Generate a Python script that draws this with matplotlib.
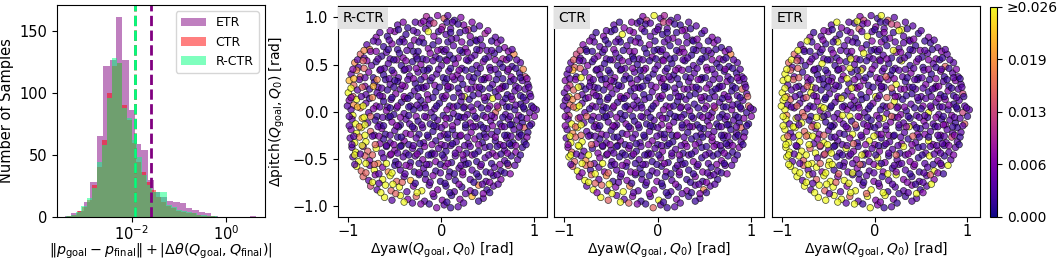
import matplotlib
matplotlib.use('Agg')
import matplotlib.pyplot as plt
import numpy as np

plt.rcParams.update({
    'font.size': 10.5,
    'mathtext.fontset': 'dejavusans',
})

# ── histogram data: counts per log-spaced bin (30 bins per method) ─────
HIST_LABELS = ['ETR', 'CTR', 'R-CTR']
HIST_COLORS = ['purple', 'red', 'springgreen']
HIST_LOG_RANGE = [(-3.42, 0.64), (-3.37, -0.22), (-3.39, -0.18)]
ETR_COUNTS = [1, 3, 5, 12, 28, 65, 122, 127, 161, 127, 86, 59, 54, 30, 20,
              16, 13, 12, 11, 7, 6, 4, 3, 1, 0, 0, 0, 0, 0, 1]
CTR_COUNTS = [1, 2, 5, 8, 14, 26, 40, 62, 100, 122, 124, 90, 78, 60, 44,
              36, 28, 22, 16, 12, 9, 7, 5, 4, 3, 3, 2, 1, 1, 1]
RCTR_COUNTS = [1, 2, 4, 9, 15, 23, 44, 58, 96, 128, 124, 88, 80, 62, 48,
               34, 26, 20, 20, 20, 10, 8, 6, 5, 4, 3, 2, 2, 1, 1]
MEAN_ERROR = [0.0259, 0.0120, 0.0120]

# ── scatter data: goal orientation offsets (same goals for all methods) ─────
GOAL_POINTS = [
    # pitch ~ 1.0
    (-0.16, 1.01), (-0.12, 0.97), (-0.04, 1.02), (0.03, 0.99), (0.07, 1.02), (0.14, 0.97), (0.21, 1.00),
    # pitch ~ 0.9
    (-0.47, 0.92), (-0.41, 0.95), (-0.36, 0.89), (-0.22, 0.94), (-0.17, 0.88), (-0.13, 0.93),
    (0.01, 0.90), (0.06, 0.95), (0.10, 0.88), (0.24, 0.92), (0.29, 0.87), (0.41, 0.91),
    # pitch ~ 0.8
    (-0.70, 0.79), (-0.66, 0.84), (-0.58, 0.80), (-0.50, 0.85), (-0.42, 0.77), (-0.38, 0.82),
    (-0.26, 0.84), (-0.21, 0.78), (-0.08, 0.80), (-0.03, 0.85), (0.05, 0.82), (0.16, 0.78),
    (0.20, 0.84), (0.31, 0.80), (0.37, 0.76), (0.47, 0.83), (0.58, 0.79),
    # pitch ~ 0.7
    (-0.80, 0.71), (-0.77, 0.66), (-0.68, 0.74), (-0.62, 0.69), (-0.53, 0.72), (-0.47, 0.66),
    (-0.40, 0.74), (-0.33, 0.70), (-0.19, 0.73), (-0.14, 0.67), (-0.09, 0.71), (0.00, 0.66),
    (0.07, 0.74), (0.13, 0.70), (0.26, 0.67), (0.31, 0.73), (0.44, 0.70), (0.49, 0.65),
    (0.60, 0.73), (0.68, 0.68),
    # pitch ~ 0.6
    (-0.87, 0.61), (-0.83, 0.57), (-0.76, 0.64), (-0.64, 0.59), (-0.59, 0.63), (-0.55, 0.56),
    (-0.45, 0.62), (-0.41, 0.57), (-0.30, 0.64), (-0.27, 0.59), (-0.20, 0.56), (-0.12, 0.62),
    (-0.06, 0.58), (0.03, 0.64), (0.09, 0.60), (0.18, 0.57), (0.23, 0.63), (0.36, 0.60),
    (0.41, 0.65), (0.51, 0.58), (0.57, 0.62), (0.66, 0.56), (0.78, 0.61),
    # pitch ~ 0.5
    (-0.93, 0.52), (-0.89, 0.47), (-0.80, 0.54), (-0.75, 0.49), (-0.70, 0.53), (-0.61, 0.46),
    (-0.57, 0.51), (-0.48, 0.55), (-0.43, 0.49), (-0.35, 0.46), (-0.31, 0.53), (-0.22, 0.50),
    (-0.13, 0.46), (-0.09, 0.54), (0.00, 0.49), (0.05, 0.55), (0.15, 0.51), (0.22, 0.46),
    (0.29, 0.54), (0.38, 0.49), (0.45, 0.53), (0.52, 0.47), (0.63, 0.51), (0.70, 0.55),
    (0.76, 0.48), (0.85, 0.52),
    # pitch ~ 0.4
    (-0.97, 0.40), (-0.91, 0.44), (-0.87, 0.37), (-0.78, 0.42), (-0.73, 0.36), (-0.66, 0.44),
    (-0.62, 0.39), (-0.51, 0.41), (-0.46, 0.36), (-0.40, 0.44), (-0.34, 0.38), (-0.25, 0.42),
    (-0.18, 0.37), (-0.15, 0.44), (-0.05, 0.40), (0.02, 0.36), (0.08, 0.43), (0.17, 0.39),
    (0.26, 0.44), (0.30, 0.37), (0.39, 0.41), (0.47, 0.36), (0.53, 0.44), (0.61, 0.40),
    (0.71, 0.43), (0.75, 0.37), (0.84, 0.41), (0.90, 0.37),
    # pitch ~ 0.3
    (-0.99, 0.33), (-0.94, 0.28), (-0.88, 0.34), (-0.82, 0.27), (-0.72, 0.31), (-0.68, 0.26),
    (-0.60, 0.34), (-0.55, 0.29), (-0.47, 0.32), (-0.39, 0.27), (-0.36, 0.34), (-0.28, 0.30),
    (-0.21, 0.26), (-0.12, 0.33), (-0.07, 0.28), (0.04, 0.31), (0.10, 0.26), (0.14, 0.34),
    (0.23, 0.29), (0.33, 0.32), (0.37, 0.26), (0.46, 0.34), (0.55, 0.29), (0.59, 0.34),
    (0.66, 0.27), (0.74, 0.32), (0.80, 0.27), (0.87, 0.33), (0.93, 0.29),
    # pitch ~ 0.2
    (-1.00, 0.20), (-0.95, 0.16), (-0.90, 0.23), (-0.81, 0.18), (-0.77, 0.24), (-0.69, 0.20),
    (-0.63, 0.16), (-0.58, 0.23), (-0.49, 0.19), (-0.44, 0.24), (-0.33, 0.17), (-0.29, 0.22),
    (-0.19, 0.25), (-0.15, 0.18), (-0.06, 0.21), (0.01, 0.16), (0.07, 0.24), (0.19, 0.20),
    (0.25, 0.16), (0.28, 0.24), (0.40, 0.19), (0.44, 0.24), (0.50, 0.16), (0.58, 0.21),
    (0.65, 0.25), (0.71, 0.18), (0.79, 0.22), (0.85, 0.17), (0.90, 0.24), (0.95, 0.19),
    # pitch ~ 0.1
    (-0.99, 0.12), (-0.94, 0.07), (-0.91, 0.13), (-0.81, 0.09), (-0.77, 0.14), (-0.70, 0.06),
    (-0.62, 0.11), (-0.58, 0.05), (-0.54, 0.13), (-0.43, 0.10), (-0.39, 0.14), (-0.33, 0.06),
    (-0.22, 0.12), (-0.18, 0.07), (-0.14, 0.13), (-0.02, 0.09), (0.03, 0.14), (0.09, 0.06),
    (0.21, 0.11), (0.25, 0.05), (0.30, 0.13), (0.39, 0.08), (0.47, 0.12), (0.52, 0.06),
    (0.55, 0.14), (0.66, 0.10), (0.70, 0.05), (0.76, 0.13), (0.85, 0.08), (0.91, 0.12),
    (0.97, 0.06),
    # pitch ~ 0.0
    (-0.97, 0.02), (-0.95, -0.04), (-0.87, 0.04), (-0.78, -0.01), (-0.73, 0.03), (-0.69, -0.05),
    (-0.59, 0.01), (-0.51, -0.03), (-0.48, 0.04), (-0.40, -0.02), (-0.30, 0.02), (-0.27, -0.05),
    (-0.23, 0.04), (-0.11, -0.01), (-0.07, 0.03), (0.02, -0.04), (0.06, 0.02), (0.13, -0.02),
    (0.24, 0.04), (0.28, -0.03), (0.34, 0.01), (0.45, -0.04), (0.50, 0.03), (0.58, -0.01),
    (0.61, 0.04), (0.69, -0.03), (0.79, 0.02), (0.83, -0.04), (0.89, 0.03), (0.95, -0.01),
    (1.02, 0.02),
    # pitch ~ -0.1
    (-0.96, -0.08), (-0.92, -0.13), (-0.85, -0.07), (-0.79, -0.12), (-0.71, -0.09), (-0.66, -0.14),
    (-0.57, -0.06), (-0.53, -0.11), (-0.44, -0.14), (-0.38, -0.08), (-0.34, -0.13), (-0.25, -0.10),
    (-0.16, -0.06), (-0.12, -0.13), (-0.04, -0.09), (0.04, -0.14), (0.09, -0.07), (0.17, -0.11),
    (0.21, -0.06), (0.31, -0.12), (0.38, -0.07), (0.42, -0.14), (0.53, -0.10), (0.57, -0.06),
    (0.63, -0.13), (0.72, -0.08), (0.76, -0.14), (0.81, -0.09), (0.87, -0.12), (0.92, -0.07),
    (0.97, -0.13),
    # pitch ~ -0.2
    (-0.97, -0.19), (-0.91, -0.23), (-0.86, -0.17), (-0.76, -0.21), (-0.72, -0.25), (-0.64, -0.18),
    (-0.60, -0.24), (-0.50, -0.20), (-0.46, -0.16), (-0.38, -0.23), (-0.29, -0.18), (-0.24, -0.24),
    (-0.20, -0.17), (-0.09, -0.21), (-0.05, -0.16), (0.03, -0.24), (0.12, -0.19), (0.15, -0.25),
    (0.26, -0.17), (0.32, -0.22), (0.37, -0.16), (0.46, -0.24), (0.49, -0.18), (0.60, -0.21),
    (0.65, -0.16), (0.71, -0.25), (0.78, -0.19), (0.84, -0.23), (0.89, -0.17), (0.93, -0.22),
    # pitch ~ -0.3
    (-0.98, -0.28), (-0.93, -0.33), (-0.88, -0.27), (-0.81, -0.32), (-0.74, -0.26), (-0.66, -0.34),
    (-0.62, -0.29), (-0.55, -0.33), (-0.47, -0.27), (-0.40, -0.31), (-0.35, -0.35), (-0.27, -0.28),
    (-0.19, -0.33), (-0.14, -0.27), (-0.06, -0.31), (0.00, -0.35), (0.07, -0.28), (0.16, -0.32),
    (0.20, -0.26), (0.29, -0.34), (0.36, -0.29), (0.44, -0.33), (0.48, -0.27), (0.58, -0.31),
    (0.63, -0.35), (0.70, -0.28), (0.77, -0.33), (0.83, -0.27), (0.89, -0.32),
    # pitch ~ -0.4
    (-0.96, -0.38), (-0.92, -0.43), (-0.84, -0.37), (-0.79, -0.42), (-0.70, -0.39), (-0.64, -0.44),
    (-0.59, -0.37), (-0.50, -0.41), (-0.43, -0.36), (-0.38, -0.44), (-0.31, -0.39), (-0.23, -0.42),
    (-0.18, -0.37), (-0.10, -0.44), (-0.03, -0.39), (0.05, -0.42), (0.10, -0.36), (0.19, -0.40),
    (0.27, -0.44), (0.31, -0.37), (0.40, -0.42), (0.47, -0.38), (0.55, -0.44), (0.60, -0.37),
    (0.68, -0.41), (0.75, -0.36), (0.80, -0.43), (0.87, -0.38),
    # pitch ~ -0.5
    (-0.95, -0.48), (-0.89, -0.53), (-0.82, -0.47), (-0.77, -0.52), (-0.68, -0.55), (-0.62, -0.49),
    (-0.55, -0.46), (-0.49, -0.53), (-0.41, -0.48), (-0.33, -0.54), (-0.28, -0.47), (-0.20, -0.51),
    (-0.11, -0.46), (-0.06, -0.53), (0.03, -0.49), (0.11, -0.54), (0.15, -0.47), (0.24, -0.51),
    (0.33, -0.46), (0.38, -0.53), (0.47, -0.49), (0.54, -0.55), (0.59, -0.47), (0.68, -0.52),
    (0.75, -0.47), (0.82, -0.51),
    # pitch ~ -0.6
    (-0.91, -0.58), (-0.86, -0.63), (-0.77, -0.57), (-0.72, -0.62), (-0.63, -0.59), (-0.57, -0.64),
    (-0.50, -0.57), (-0.44, -0.62), (-0.34, -0.58), (-0.29, -0.64), (-0.19, -0.60), (-0.13, -0.56),
    (-0.06, -0.63), (0.04, -0.58), (0.09, -0.64), (0.19, -0.60), (0.26, -0.56), (0.33, -0.62),
    (0.42, -0.58), (0.48, -0.64), (0.57, -0.59), (0.64, -0.63), (0.72, -0.57),
    # pitch ~ -0.7
    (-0.84, -0.69), (-0.78, -0.73), (-0.71, -0.67), (-0.63, -0.72), (-0.55, -0.68), (-0.48, -0.74),
    (-0.40, -0.69), (-0.33, -0.73), (-0.24, -0.67), (-0.17, -0.72), (-0.09, -0.68), (-0.01, -0.74),
    (0.08, -0.69), (0.15, -0.73), (0.23, -0.67), (0.31, -0.72), (0.40, -0.69), (0.48, -0.74),
    (0.56, -0.68), (0.64, -0.72),
    # pitch ~ -0.8
    (-0.76, -0.79), (-0.69, -0.83), (-0.60, -0.78), (-0.54, -0.84), (-0.45, -0.80), (-0.37, -0.85),
    (-0.30, -0.79), (-0.21, -0.84), (-0.13, -0.78), (-0.04, -0.83), (0.05, -0.79), (0.14, -0.85),
    (0.22, -0.80), (0.31, -0.84), (0.40, -0.78), (0.49, -0.83), (0.56, -0.79),
    # pitch ~ -0.9
    (-0.61, -0.91), (-0.53, -0.94), (-0.44, -0.89), (-0.36, -0.93), (-0.27, -0.90), (-0.18, -0.95),
    (-0.08, -0.90), (0.01, -0.94), (0.11, -0.89), (0.20, -0.93), (0.33, -0.90), (0.45, -0.92),
    # pitch ~ -1.0
    (-0.05, -1.02), (0.03, -0.99), (0.10, -1.02), (0.18, -1.01), (-0.13, -0.98),
    # ── in-between rows ──
    # pitch ~ 0.95
    (-0.28, 0.95), (-0.19, 0.96), (-0.08, 0.94), (0.12, 0.95), (0.18, 0.93), (0.33, 0.95),
    # pitch ~ 0.85
    (-0.55, 0.86), (-0.46, 0.87), (-0.30, 0.86), (-0.14, 0.85), (0.00, 0.87), (0.10, 0.84),
    (0.26, 0.86), (0.35, 0.88), (0.50, 0.86),
    # pitch ~ 0.75
    (-0.73, 0.75), (-0.56, 0.76), (-0.45, 0.74), (-0.29, 0.76), (-0.24, 0.74), (-0.03, 0.75),
    (0.11, 0.77), (0.22, 0.74), (0.38, 0.75), (0.42, 0.77), (0.54, 0.75), (0.64, 0.76),
    # pitch ~ 0.65
    (-0.83, 0.65), (-0.70, 0.64), (-0.57, 0.66), (-0.37, 0.65), (-0.25, 0.64), (-0.04, 0.65),
    (0.05, 0.66), (0.20, 0.65), (0.28, 0.63), (0.38, 0.66), (0.54, 0.65), (0.62, 0.66),
    (0.72, 0.64), (0.76, 0.66),
    # pitch ~ 0.55
    (-0.90, 0.55), (-0.84, 0.54), (-0.68, 0.56), (-0.51, 0.55), (-0.38, 0.54), (-0.26, 0.56),
    (-0.16, 0.55), (-0.02, 0.56), (0.06, 0.54), (0.13, 0.56), (0.27, 0.55), (0.32, 0.57),
    (0.47, 0.56), (0.58, 0.55), (0.73, 0.57), (0.81, 0.55),
    # pitch ~ 0.45
    (-0.95, 0.45), (-0.83, 0.46), (-0.65, 0.45), (-0.53, 0.44), (-0.39, 0.45), (-0.27, 0.46),
    (-0.19, 0.44), (-0.03, 0.45), (0.10, 0.46), (0.19, 0.44), (0.33, 0.45), (0.42, 0.46),
    (0.58, 0.45), (0.66, 0.47), (0.72, 0.45), (0.80, 0.46), (0.88, 0.45),
    # pitch ~ 0.35
    (-0.94, 0.35), (-0.82, 0.36), (-0.69, 0.34), (-0.56, 0.35), (-0.50, 0.33), (-0.30, 0.35),
    (-0.22, 0.34), (-0.10, 0.36), (0.06, 0.35), (0.12, 0.37), (0.21, 0.35), (0.35, 0.36),
    (0.43, 0.34), (0.51, 0.36), (0.66, 0.35), (0.78, 0.34), (0.85, 0.36), (0.92, 0.35),
    # pitch ~ 0.25
    (-0.97, 0.25), (-0.85, 0.26), (-0.73, 0.27), (-0.64, 0.25), (-0.51, 0.26), (-0.42, 0.28),
    (-0.25, 0.25), (-0.16, 0.27), (-0.02, 0.26), (0.07, 0.27), (0.18, 0.25), (0.32, 0.24),
    (0.41, 0.26), (0.52, 0.25), (0.62, 0.24), (0.69, 0.27), (0.83, 0.25), (0.94, 0.26),
    # pitch ~ 0.15
    (-0.97, 0.15), (-0.86, 0.16), (-0.74, 0.15), (-0.66, 0.17), (-0.53, 0.15), (-0.40, 0.16),
    (-0.36, 0.14), (-0.25, 0.16), (-0.09, 0.15), (0.05, 0.17), (0.13, 0.15), (0.22, 0.16),
    (0.34, 0.17), (0.46, 0.15), (0.61, 0.16), (0.69, 0.14), (0.75, 0.16), (0.88, 0.15),
    (0.96, 0.16),
    # pitch ~ 0.05
    (-1.01, 0.06), (-0.90, 0.05), (-0.84, 0.06), (-0.66, 0.05), (-0.55, 0.04), (-0.47, 0.06),
    (-0.35, 0.05), (-0.26, 0.07), (-0.17, 0.04), (-0.05, 0.06), (0.13, 0.05), (0.17, 0.06),
    (0.32, 0.05), (0.43, 0.04), (0.60, 0.06), (0.73, 0.05), (0.80, 0.07), (0.88, 0.05),
    (0.99, 0.04),
    # pitch ~ -0.05
    (-0.99, -0.05), (-0.83, -0.06), (-0.76, -0.05), (-0.63, -0.06), (-0.55, -0.05), (-0.44, -0.06),
    (-0.35, -0.04), (-0.18, -0.05), (-0.08, -0.06), (0.05, -0.07), (0.18, -0.05), (0.25, -0.06),
    (0.36, -0.05), (0.48, -0.06), (0.54, -0.04), (0.66, -0.06), (0.74, -0.05), (0.86, -0.06),
    (1.00, -0.05),
    # pitch ~ -0.15
    (-0.99, -0.15), (-0.88, -0.16), (-0.82, -0.14), (-0.68, -0.16), (-0.62, -0.15), (-0.48, -0.15),
    (-0.31, -0.16), (-0.21, -0.14), (-0.08, -0.15), (0.00, -0.17), (0.12, -0.15), (0.26, -0.14),
    (0.34, -0.16), (0.45, -0.17), (0.55, -0.15), (0.68, -0.16), (0.74, -0.14), (0.84, -0.16),
    (0.95, -0.15),
    # pitch ~ -0.25
    (-0.94, -0.26), (-0.82, -0.25), (-0.67, -0.26), (-0.55, -0.25), (-0.43, -0.27), (-0.33, -0.24),
    (-0.15, -0.25), (-0.01, -0.26), (0.07, -0.24), (0.21, -0.25), (0.28, -0.27), (0.41, -0.26),
    (0.54, -0.24), (0.58, -0.27), (0.68, -0.25), (0.75, -0.26), (0.86, -0.25), (0.92, -0.27),
    # pitch ~ -0.35
    (-0.96, -0.35), (-0.85, -0.36), (-0.71, -0.35), (-0.59, -0.36), (-0.51, -0.35), (-0.44, -0.37),
    (-0.30, -0.36), (-0.23, -0.34), (-0.10, -0.35), (0.04, -0.36), (0.12, -0.34), (0.25, -0.36),
    (0.40, -0.35), (0.52, -0.37), (0.67, -0.36), (0.73, -0.34), (0.80, -0.36), (0.91, -0.35),
    # pitch ~ -0.45
    (-0.93, -0.46), (-0.87, -0.45), (-0.74, -0.46), (-0.54, -0.45), (-0.47, -0.44), (-0.35, -0.46),
    (-0.26, -0.45), (-0.14, -0.46), (-0.07, -0.45), (0.01, -0.46), (0.15, -0.44), (0.23, -0.46),
    (0.36, -0.45), (0.51, -0.46), (0.64, -0.45), (0.71, -0.44), (0.85, -0.46),
    # pitch ~ -0.55
    (-0.93, -0.56), (-0.81, -0.55), (-0.72, -0.56), (-0.59, -0.55), (-0.46, -0.56), (-0.38, -0.57),
    (-0.24, -0.55), (-0.16, -0.56), (-0.01, -0.56), (0.07, -0.55), (0.21, -0.57), (0.29, -0.55),
    (0.43, -0.56), (0.63, -0.56), (0.71, -0.55), (0.79, -0.57),
    # pitch ~ -0.65
    (-0.81, -0.65), (-0.67, -0.66), (-0.53, -0.65), (-0.39, -0.66), (-0.24, -0.65), (-0.17, -0.66),
    (-0.01, -0.65), (0.14, -0.66), (0.23, -0.64), (0.38, -0.66), (0.53, -0.65), (0.60, -0.67),
    (0.68, -0.65), (0.74, -0.66),
    # pitch ~ -0.75
    (-0.74, -0.75), (-0.67, -0.76), (-0.52, -0.77), (-0.42, -0.75), (-0.28, -0.76), (-0.12, -0.75),
    (0.04, -0.76), (0.19, -0.77), (0.35, -0.75), (0.44, -0.77), (0.52, -0.75), (0.61, -0.77),
    # pitch ~ -0.85
    (-0.65, -0.86), (-0.49, -0.87), (-0.26, -0.86), (-0.09, -0.87), (0.09, -0.86), (0.26, -0.87),
    (0.36, -0.86), (0.45, -0.87), (0.52, -0.86),
    # pitch ~ -0.95
    (-0.40, -0.96), (-0.31, -0.97), (-0.22, -0.98), (0.06, -0.96), (0.24, -0.97), (0.40, -0.95),
]

# error level per goal (0 = 0.000 ... 9 = >=0.026), one string per pitch row
ERR_LEVEL_VALUE = [0.0, 0.002, 0.004, 0.0065, 0.0095, 0.0125, 0.0155, 0.0185, 0.022, 0.026]
ERR_RCTR = ("4236213" "231322412352" "32132123312213242" "27213122131212312233"
            "62312213121322131232147" "72321223121312213212321312"
            "2763121321223121231213212315" "86231212132121312212312131222"
            "962212313212231212932121312122" "3792131221321231212312139213121"
            "2962313122131221321231267213122" "2982121312213123121321231212132"
            "399623121321212312132121312161" "29792312131222131212312132121"
            "2936921312213121231212312131" "29637231212313212231213212"
            "96293712312213121231215" "62399628123121321213" "52969239231213712"
            "929362231382" "32121"
            # in-between rows
            "235213" "312931213" "221312231212" "73121321312132"
            "2621312131221312" "36212312131221317" "827213121321231213"
            "968213121312213122" "3272131213121321212" "2892131221312131212"
            "2962131213121321213" "2792131212312132121" "293213121321231213"
            "296231213212312131" "92632131212312131" "2969231213212312"
            "62923121312213" "929612131232" "969312131" "923121")
ERR_CTR = ("3592412" "213231252132" "21312931221312213" "31221312213121322131"
           "52131221312132213121237" "26231213122131221312131212"
           "2812312131221312213121321212" "35312213121321231212312213122"
           "296213212231212312131221231262" "2672131221312123121321231213126"
           "2592131221312212312131226131212" "2962131221312123121321231212131"
           "279212312132121231213212131261" "29692312131221312123121321212"
           "3692131221312123121321231213" "96272312131221312123121312"
           "69612312131221312123122" "39627123121312213121" "29613972131213272"
           "962231291312" "62121"
           # in-between rows
           "312412" "213121312" "312131221312" "51213121312132"
           "6221312131221312" "26212312131221312" "292131213212312132"
           "392131213122131212" "2632131213121321216" "2692131221312131212"
           "3362131213121321213" "3692131212312132121" "962213121321231213"
           "396231213212312131" "92932131212312131" "2969231213212312"
           "39623121312213" "969212131232" "392312131" "963121")
ERR_ETR = ("3521962" "293162312592" "31232131921312213" "23131292131231221312"
           "63121231213921213121232" "62213192131221231291312162"
           "9621321221312913212231213122" "92613921312123121391213122132"
           "962129312212313921231221213125" "9262213912312213219312132213122"
           "9726213212391213122312193213152" "9299139123213212931212312132126"
           "929692321239131223129312132212" "99296239122312931223121931252"
           "9929693212931223121931223122" "92969239122312931223129312"
           "99629391223129312231293" "92969939122312931223" "92969239293122312"
           "999962939312" "93121"
           # in-between rows
           "293152" "312213912" "931223122312" "91223129312132"
           "9621391223122312" "96212913212231213" "962129312631223121"
           "926212931263122312" "9262129312631223121" "9262912231263122312"
           "9269129312631223121" "9926912631223122312" "699621293126312231"
           "929691263122312231" "92969129312631223" "9296912631223129"
           "92969129312631" "929691223129" "929691293" "929312")
PANELS = [('R-CTR', ERR_RCTR), ('CTR', ERR_CTR), ('ETR', ERR_ETR)]
VMAX = 0.026

W, H = 1058, 261
fig = plt.figure(figsize=(W / 100, H / 100), dpi=100, facecolor='white')


def px_axes(left, top, right, bottom):
    return fig.add_axes([left / W, (H - bottom) / H, (right - left) / W, (bottom - top) / H])


# ── histogram ─────
axh = px_axes(57, 5, 265, 217)
for label, color, (lo, hi), counts in zip(HIST_LABELS, HIST_COLORS, HIST_LOG_RANGE,
                                          [ETR_COUNTS, CTR_COUNTS, RCTR_COUNTS]):
    edges = np.logspace(lo, hi, len(counts) + 1)
    centers = np.sqrt(edges[:-1] * edges[1:])
    axh.hist(centers, bins=edges, weights=counts, color=color, alpha=0.5, label=label)
for color, m in zip(HIST_COLORS, MEAN_ERROR):
    axh.axvline(m, color=color, linestyle='--', linewidth=2)
axh.set_xscale('log')
axh.set_xlim(10 ** -3.59, 10 ** 0.834)
axh.set_ylim(0, 171)
axh.set_xticks([1e-2, 1e0])
axh.xaxis.set_minor_locator(matplotlib.ticker.NullLocator())
axh.set_yticks([0, 50, 100, 150])
axh.tick_params(axis='x', pad=2)
axh.set_ylabel('Number of Samples')
axh.set_xlabel(r'$\|p_{\mathrm{goal}} - p_{\mathrm{final}}\| + |\Delta\theta(Q_{\mathrm{goal}}, Q_{\mathrm{final}})|$',
               fontsize=10.3, labelpad=-1)
axh.legend(loc='upper right', fontsize=9)

# ── scatter panels ─────
yaw = np.array([p[0] for p in GOAL_POINTS])
pitch = np.array([p[1] for p in GOAL_POINTS])
panel_px = [(338, 547), (554, 764), (772, 980)]
sc = None
for i, ((name, levels), (l, r)) in enumerate(zip(PANELS, panel_px)):
    ax = px_axes(l, 5.7, r, 216.7)
    n = min(len(levels), len(yaw))
    err = np.array([ERR_LEVEL_VALUE[int(ch)] for ch in levels[:n]])
    sc = ax.scatter(yaw[:n], pitch[:n], c=err, cmap='plasma', vmin=0, vmax=VMAX,
                    s=22, edgecolors='k', linewidths=0.5, alpha=0.72)
    ax.set_xlim(-1.11, 1.135)
    ax.set_ylim(-1.115, 1.125)
    ax.set_xticks([-1, 0, 1])
    ax.tick_params(axis='x', pad=2)
    ax.set_xlabel(r'$\Delta$yaw($Q_{\mathrm{goal}}, Q_0$) [rad]', fontsize=10, labelpad=1)
    if i == 0:
        ax.set_yticks([-1.0, -0.5, 0.0, 0.5, 1.0])
        ax.set_ylabel(r'$\Delta$pitch($Q_{\mathrm{goal}}, Q_0$) [rad]', fontsize=10)
    else:
        ax.set_yticks([])
    ax.text(0.02, 0.975, name, transform=ax.transAxes, ha='left', va='top', fontsize=10,
            bbox=dict(boxstyle='square,pad=0.3', facecolor='#e2e2e2', edgecolor='none'))

cax = px_axes(990, 6.5, 997.3, 216.7)
cb = fig.colorbar(sc, cax=cax)
cb.solids.set_alpha(1)
cb.set_ticks([0, 0.0065, 0.013, 0.0195, 0.026])
cb.set_ticklabels(['0.000', '0.006', '0.013', '0.019', '≥0.026'])
cb.ax.tick_params(labelsize=10)

fig.savefig('out.png', dpi=100, facecolor='white')
